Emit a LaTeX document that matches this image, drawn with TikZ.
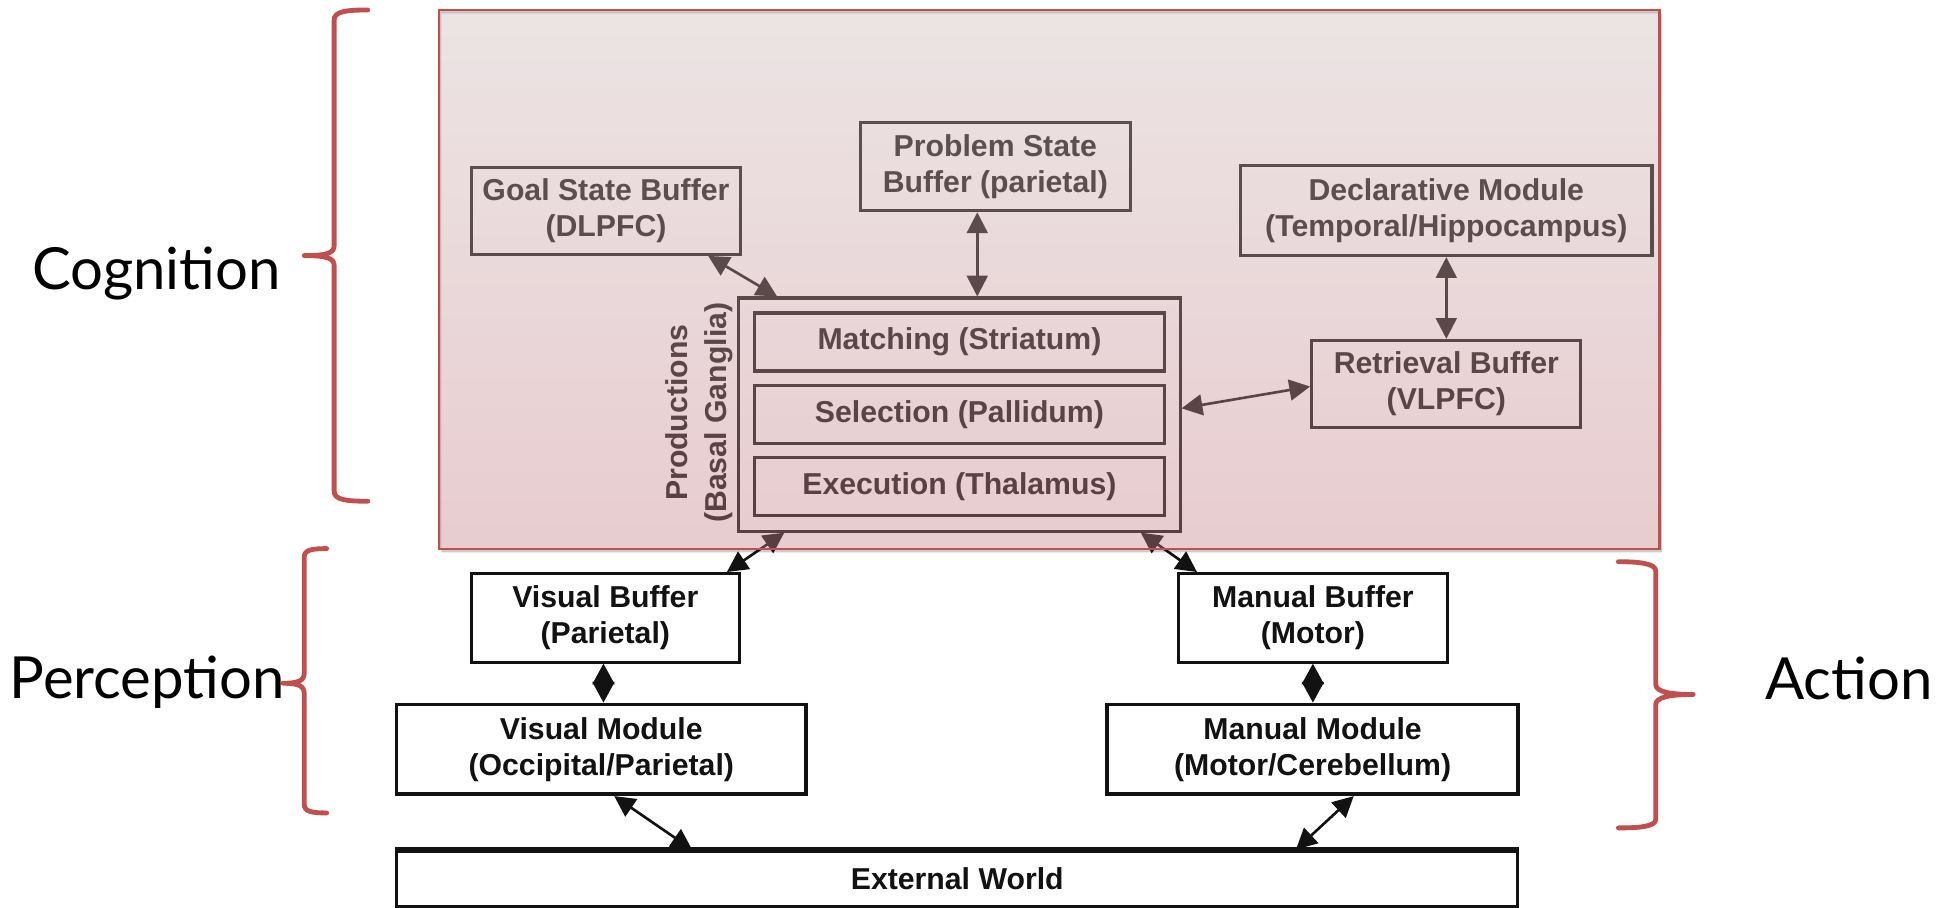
\documentclass[tikz,border=0pt]{standalone}
\usepackage{fontspec}
\setmainfont{Liberation Sans}
\newfontfamily\labelfont{Lato}
\usetikzlibrary{arrows.meta,calc}
\definecolor{bracered}{RGB}{192,80,77}
\definecolor{inktone}{RGB}{18,18,18}
\definecolor{tinttop}{RGB}{207,187,188}
\definecolor{tintbot}{RGB}{197,128,136}
\begin{document}
\begin{tikzpicture}[x=0.02cm,y=-0.02cm,
  box/.style={draw=inktone, line width=1.4pt, fill=white, align=center,
    font=\fontsize{13.8}{16.3}\selectfont\bfseries, text=inktone, inner sep=0pt},
  modbox/.style={box, line width=1.7pt},
  rotlabel/.style={align=center, rotate=90, text=inktone, inner sep=0pt,
    font=\fontsize{13.8}{17.8}\selectfont\bfseries},
  link/.style={{Triangle[length=9.5pt,width=9.5pt]}-{Triangle[length=9.5pt,width=9.5pt]},
    line width=1.2pt, draw=inktone},
  twin/.style={{Triangle[length=9.5pt,width=10pt]}-{Triangle[length=9.5pt,width=10pt]},
    line width=1.2pt, draw=inktone},
  brace/.style={draw=bracered, line width=2.2pt, line cap=round, line join=round},
  sidelabel/.style={font=\labelfont\fontsize{26.5}{30}\selectfont, text=black,
    inner sep=0pt, anchor=base}]

\useasboundingbox (0,0) rectangle (1568,728);

% cognitive modules and buffers
\node[box, minimum width=4.32cm, minimum height=1.40cm] (goal) at (486,169)
  {Goal State Buffer\\(DLPFC)};
\node[box, minimum width=4.33cm, minimum height=1.41cm] (problem) at (798.3,133.8)
  {Problem State\\Buffer (parietal)};
\node[box, minimum width=6.6cm, minimum height=1.44cm] (decl) at (1160,169)
  {Declarative Module\\(Temporal/Hippocampus)};
\node[box, minimum width=4.32cm, minimum height=1.40cm] (retr) at (1160,308)
  {Retrieval Buffer\\(VLPFC)};

% production system
\node[box, minimum width=7.09cm, minimum height=3.74cm] (prod) at (769.25,332.5) {};
\node[box, minimum width=6.58cm, minimum height=0.93cm] (match) at (769.5,274.3)
  {Matching (Striatum)};
\node[box, minimum width=6.58cm, minimum height=0.93cm] (select) at (769.5,332.25)
  {Selection (Pallidum)};
\node[box, minimum width=6.58cm, minimum height=0.93cm] (exec) at (769.5,390.4)
  {Execution (Thalamus)};
\node[rotlabel] (prodlabel) at (561,331) {Productions\\(Basal Ganglia)};

% perceptual and motor side
\node[box, minimum width=4.30cm, minimum height=1.42cm] (vbuf) at (485.5,495.5)
  {Visual Buffer\\(Parietal)};
\node[box, minimum width=4.32cm, minimum height=1.42cm] (mbuf) at (1053,495.5)
  {Manual Buffer\\(Motor)};
\node[modbox, minimum width=6.57cm, minimum height=1.44cm] (vmod) at (482.25,601)
  {Visual Module\\(Occipital/Parietal)};
\node[modbox, minimum width=6.59cm, minimum height=1.44cm] (mmod) at (1052.75,601)
  {Manual Module\\(Motor/Cerebellum)};
\node[box, minimum width=17.99cm, minimum height=0.89cm] (world) at (767.75,704.8)
  {External World};
\draw[inktone, line width=1.9pt] (world.north west) -- (world.north east);

% connections
\draw[link] ([xshift=1.64cm]goal.south) -- ([xshift=-2.92cm]prod.north);
\draw[link] ([xshift=-0.29cm]problem.south) -- ([xshift=-0.29cm]problem.south |- prod.north);
\draw[link] ([yshift=0.1cm]prod.east) -- ([yshift=-0.04cm]retr.west);
\draw[link] (decl.south) -- (retr.north);
\draw[link] ([xshift=-2.805cm]prod.south) -- ([xshift=1.95cm]vbuf.north);
\draw[link] ([xshift=2.915cm]prod.south) -- ([xshift=-1.86cm]mbuf.north);
\draw[twin] ([xshift=-0.03cm]vbuf.south) -- ([xshift=-0.03cm]vbuf.south |- vmod.north);
\draw[twin] (mbuf.south) -- (mbuf.south |- mmod.north);
\draw[link] ([xshift=0.207cm]vmod.south) -- ([xshift=-4.255cm]world.north);
\draw[link] ([xshift=0.66cm]mmod.south) -- ([xshift=5.435cm]world.north);

% tinted cognition panel with its shadow and border
\coordinate (tintNW) at (352,8);
\coordinate (tintSE) at (1331,440);
\fill[black, opacity=0.2, even odd rule] (354,11) rectangle (1333,443) (tintNW) rectangle (tintSE);
\shade[top color=tinttop, bottom color=tintbot, fill opacity=0.4] (tintNW) rectangle (tintSE);
\draw[bracered, line width=1pt] (tintNW) rectangle (tintSE);

% group braces
\draw[brace] (295,8) .. controls (278,8) and (268,9) .. (268,16) -- (268,197)
  .. controls (268,203) and (262,205) .. (244,205)
  .. controls (262,205) and (268,207) .. (268,213) -- (268,394)
  .. controls (268,401) and (278,402) .. (295,402);
\draw[brace] (262,440) .. controls (250,440) and (244,441) .. (244,447) -- (244,540)
  .. controls (244,546) and (239,548) .. (227,548)
  .. controls (239,548) and (244,550) .. (244,556) -- (244,645)
  .. controls (244,651) and (250,652) .. (262,652);
\draw[brace] (1298,450.5) .. controls (1315,450.5) and (1328,452) .. (1328,458) -- (1328,549)
  .. controls (1328,555) and (1340,557) .. (1358,557)
  .. controls (1340,557) and (1328,559) .. (1328,565) -- (1328,657)
  .. controls (1328,663) and (1315,664) .. (1298,664);

\node[sidelabel] (cog) at (125.5,232) {Cognition};
\node[sidelabel] (perc) at (118,560) {Perception};
\node[sidelabel] (act) at (1483,561) {Action};
\end{tikzpicture}
\end{document}
